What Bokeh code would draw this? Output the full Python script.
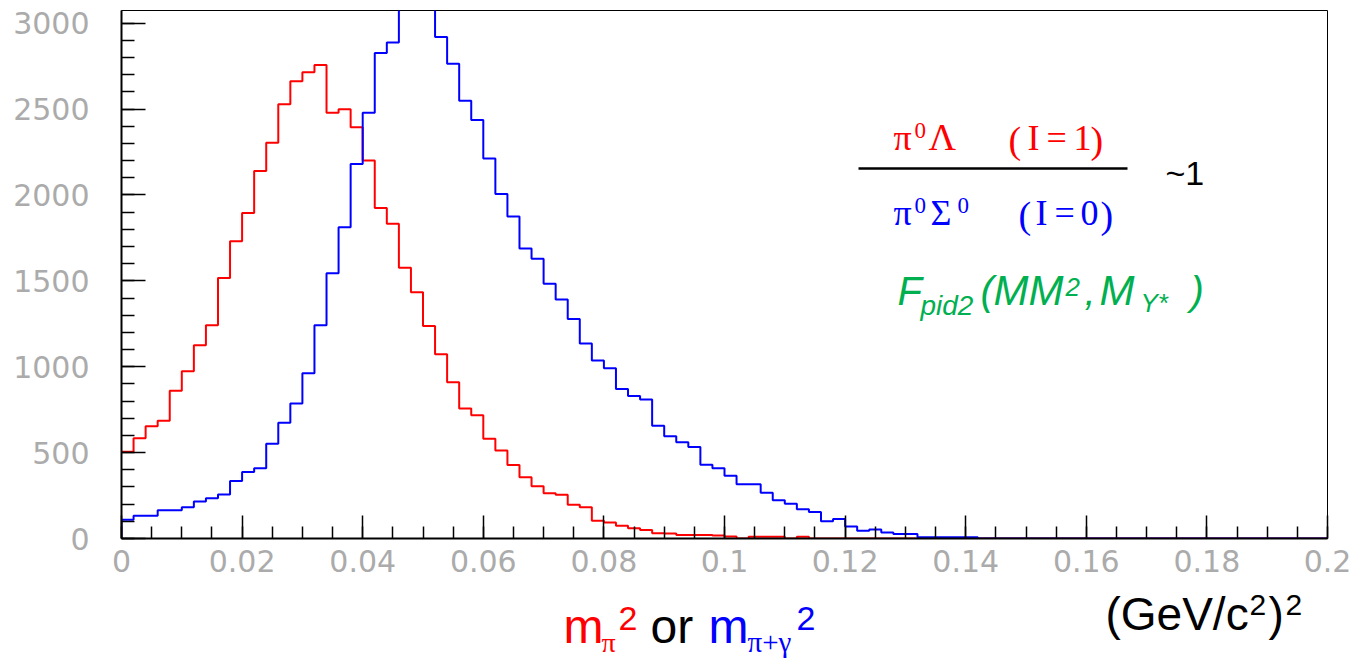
import numpy as np
from bokeh.plotting import figure
from bokeh.layouts import column
from bokeh.models import (Range1d, FixedTicker, CustomJSTickFormatter, Label,
                          Arrow, ColumnDataSource)
from bokeh.embed import file_html
from bokeh.resources import INLINE

# ---------------- data ----------------
x_lo, x_hi, n_bins = 0.0, 0.2, 100
y_hi = 3074

# m_pi^2 (pi0 Lambda, red)
red_counts = [505, 583, 653, 685, 860, 974, 1125, 1241, 1516, 1730,
              1895, 2139, 2304, 2528, 2662, 2714, 2757, 2478, 2499, 2395,
              2201, 1924, 1833, 1576, 1433, 1237, 1073, 910, 757, 717,
              581, 513, 428, 357, 304, 264, 254, 196, 182, 103,
              93, 74, 60, 49, 31, 29, 21, 21, 20, 18,
              12, 0, 10, 10, 10, 0, 10, 0, 0, 0] + [0] * 40

# m_(pi+gamma)^2 (pi0 Sigma0, blue)
blue_counts = [109, 132, 132, 165, 165, 182, 215, 235, 256, 335,
               387, 409, 552, 674, 786, 962, 1241, 1545, 1812, 2180,
               2478, 2826, 2888, 3150, 3120, 3180, 2919, 2764, 2548, 2437,
               2213, 2006, 1874, 1688, 1628, 1483, 1392, 1278, 1136, 1036,
               991, 871, 829, 809, 656, 595, 561, 532, 430, 409,
               366, 316, 316, 267, 223, 202, 171, 155, 101, 113,
               70, 45, 52, 35, 26, 26, 8, 8, 8, 8,
               8] + [0] * 29

x_ticks = [0, 0.02, 0.04, 0.06, 0.08, 0.1, 0.12, 0.14, 0.16, 0.18, 0.2]
y_ticks = [0, 500, 1000, 1500, 2000, 2500, 3000]
x_minor = [round(v, 3) for v in np.arange(0, 0.2001, 0.005)]
y_minor = list(range(0, 3001, 100))

# ---------------- layout constants (page pixels) ----------------
W = 1352
H1, H2 = 588, 75
FR_L, FR_T, FR_R, FR_B = 121, 10, 1327, 538

p = figure(width=W, height=H1, title=None,
           x_range=Range1d(x_lo, x_hi), y_range=Range1d(0, y_hi),
           output_backend="svg", toolbar_location=None,
           min_border_left=FR_L, min_border_right=W - FR_R,
           min_border_top=FR_T, min_border_bottom=H1 - FR_B)
p.background_fill_color = "white"
p.border_fill_color = "white"
p.xgrid.visible = False
p.ygrid.visible = False
p.outline_line_color = "black"
p.outline_line_width = 1

for ax in (p.xaxis[0], p.yaxis[0]):
    ax.axis_line_color = "black"
    ax.axis_line_width = 2
    ax.major_tick_line_color = "black"
    ax.minor_tick_line_color = "black"
    ax.major_tick_line_width = 1.5
    ax.minor_tick_line_width = 1.5
    ax.major_tick_out = 0
    ax.minor_tick_out = 0
    ax.major_label_text_font = "DejaVu Sans"
    ax.major_label_text_font_size = "30px"
    ax.major_label_text_color = "#ababab"

p.xaxis[0].ticker = FixedTicker(ticks=x_ticks, minor_ticks=x_minor)
p.yaxis[0].ticker = FixedTicker(ticks=y_ticks, minor_ticks=y_minor)
p.xaxis[0].formatter = CustomJSTickFormatter(code="return Number(tick.toFixed(3)).toString();")
p.xaxis[0].major_tick_in = 23
p.xaxis[0].minor_tick_in = 12
p.yaxis[0].major_tick_in = 24
p.yaxis[0].minor_tick_in = 13
p.xaxis[0].major_label_standoff = 11
p.yaxis[0].major_label_standoff = 32

edges = np.linspace(x_lo, x_hi, n_bins + 1)

def hist_source(counts, from_zero):
    if from_zero:
        xs = np.concatenate([[x_lo], edges])
        ys = np.concatenate([[0], counts, [counts[-1]]])
    else:
        xs = edges
        ys = np.concatenate([counts, [counts[-1]]])
    return ColumnDataSource(dict(x=xs, y=ys))

p.step("x", "y", source=hist_source(red_counts, False), mode="after",
       line_color="#ff0000", line_width=2)
p.step("x", "y", source=hist_source(blue_counts, True), mode="after",
       line_color="#0000ff", line_width=2)

# ---------------- text annotations (reference pixel coords) ----------------
SERIF = "Liberation Serif"
SANS = "Liberation Sans"
RED, BLUE, GREEN = "#ff0000", "#0000ff", "#00b050"
BASE_SHIFT = 0.36   # compensates the renderer's baseline offset (em)

def make_lab(fig, x0, ybot):
    def lab(text, X, Yb, size, color, font=SANS, style="normal"):
        fig.add_layout(Label(x=X - x0, y=ybot - Yb + BASE_SHIFT * size,
                             x_units="screen", y_units="screen",
                             text=text, text_font=font, text_font_size=f"{size}px",
                             text_color=color, text_font_style=style,
                             text_baseline="alphabetic", text_align="left"))
    return lab

lab = make_lab(p, FR_L, FR_B)

# numerator: pi0 Lambda (I=1)
lab("π", 893, 150, 36, RED, SERIF)
lab("0", 914, 138, 23, RED, SERIF)
lab("Λ", 928, 150, 38, RED, SERIF)
lab("(", 1008, 153, 38, RED, SERIF)
lab("I", 1027, 150, 36, RED, SERIF)
lab("=", 1046, 150, 36, RED, SERIF)
lab("1", 1073, 150, 36, RED, SERIF)
lab(")", 1090, 153, 38, RED, SERIF)

# fraction bar
p.add_layout(Arrow(x_start=858 - FR_L, y_start=FR_B - 168,
                   x_end=1127 - FR_L, y_end=FR_B - 168,
                   start_units="screen", end_units="screen", end=None,
                   line_color="black", line_width=2.5))

# denominator: pi0 Sigma0 (I=0)
lab("π", 893, 225, 36, BLUE, SERIF)
lab("0", 914, 213, 23, BLUE, SERIF)
lab("Σ", 930, 225, 36, BLUE, SERIF)
lab("0", 957, 213, 23, BLUE, SERIF)
lab("(", 1018, 228, 38, BLUE, SERIF)
lab("I", 1035, 225, 36, BLUE, SERIF)
lab("=", 1054, 225, 36, BLUE, SERIF)
lab("0", 1080, 225, 36, BLUE, SERIF)
lab(")", 1100, 228, 38, BLUE, SERIF)

lab("~1", 1165, 185, 34, "black")

# F_pid2(MM^2, M_Y*)
lab("F", 897, 305, 40, GREEN, style="italic")
lab("pid2", 920, 315, 28, GREEN, style="italic")
lab("(", 980, 305, 40, GREEN, style="italic")
lab("MM", 993, 305, 42, GREEN, style="italic")
lab("2", 1065, 296, 26, GREEN, style="italic")
lab(",", 1084, 305, 40, GREEN, style="italic")
lab("M", 1099, 305, 42, GREEN, style="italic")
lab("Y*", 1140, 312, 26, GREEN, style="italic")
lab(")", 1190, 305, 40, GREEN, style="italic")

# ---------------- bottom strip with the axis titles ----------------
q = figure(width=W, height=H2, title=None, output_backend="svg",
           toolbar_location=None, x_axis_type=None, y_axis_type=None,
           min_border_left=FR_L, min_border_right=W - FR_R, min_border_top=0,
           min_border_bottom=0, x_range=Range1d(0, 1), y_range=Range1d(0, 1))
q.outline_line_color = None
q.xgrid.visible = False
q.ygrid.visible = False
q.background_fill_color = "white"
q.border_fill_color = "white"

labq = make_lab(q, FR_L, H1 + H2)

labq("m", 563, 643, 48, RED)
labq("π", 601, 652, 28, RED, SERIF)
labq("2", 618, 630, 34, RED)
labq("or", 650, 643, 48, "black")
labq("m", 708, 643, 48, BLUE)
labq("π+γ", 747, 652, 29, BLUE, SERIF)
labq("2", 796, 630, 34, BLUE)

labq("(GeV/c", 1105, 630, 46, "black")
labq("2", 1249, 615, 30, "black")
labq(")", 1268, 630, 46, "black")
labq("2", 1285, 615, 30, "black")

layout = column(p, q, spacing=0)
open("out.html", "w").write(file_html(layout, INLINE))
